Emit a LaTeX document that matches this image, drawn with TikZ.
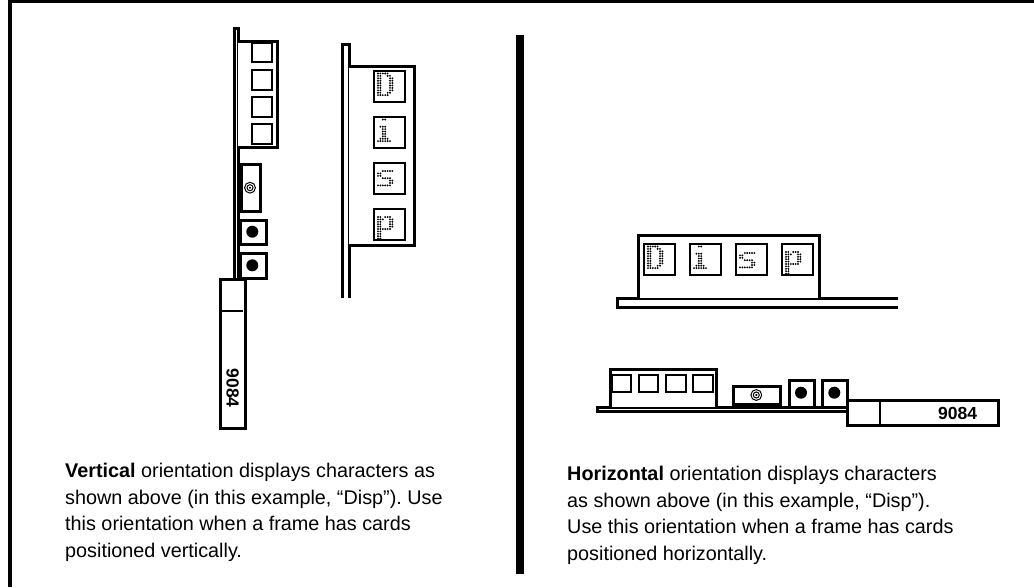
\documentclass[tikz,border=0pt]{standalone}
\usepackage{fontspec}
\setmainfont{Liberation Sans}
\frenchspacing
\newcommand\dotglyph[3]{\foreach \c/\r in #3 {\fill[black] (#1+\c*2.4,#2+\r*2.4) circle (1.05);}}
\def\glyphD{0/0,1/0,2/0,3/0,4/0,0/1,1/1,4/1,5/1,0/2,1/2,5/2,6/2,0/3,1/3,5/3,6/3,0/4,1/4,5/4,6/4,0/5,1/5,5/5,6/5,0/6,1/6,5/6,6/6,0/7,1/7,5/7,6/7,0/8,1/8,4/8,5/8,0/9,1/9,2/9,3/9,4/9}
\def\glyphi{3/0,2/0,1/3,2/3,3/3,2/4,3/4,2/5,3/5,2/6,3/6,2/7,3/7,1/8,2/8,3/8,4/8,0/9,1/9,2/9,3/9,4/9,5/9}
\def\glyphs{2/0,3/0,4/0,5/0,6/0,0/1,1/1,0/2,1/2,2/3,3/3,4/3,5/3,5/4,6/4,5/5,6/5,0/6,1/6,2/6,3/6,4/6,5/6}
\def\glyphp{0/0,1/0,3/0,4/0,5/0,0/1,1/1,2/1,5/1,6/1,0/2,1/2,5/2,6/2,0/3,1/3,5/3,6/3,0/4,1/4,5/4,6/4,0/5,1/5,2/5,3/5,4/5,5/5,0/6,1/6,0/7,1/7,0/8,1/8,0/9,1/9}
\tikzset{
  part/.style={draw=black,line width=3pt,fill=white},
  cell/.style={draw=black,line width=2.2pt,fill=white},
  edge/.style={draw=black,line width=3pt},
  para/.style={anchor=north west,align=left,inner sep=0pt,font=\fontsize{19.8}{26.7}\selectfont},
  serial/.style={inner sep=0pt,font=\bfseries\fontsize{17.5}{20}\selectfont},
}
\newcommand\bullring[2]{\draw[line width=1pt] (#1,#2) circle (5.4); \draw[line width=1pt] (#1,#2) circle (3); \fill (#1,#2) circle (1.2);}
\begin{document}
\begin{tikzpicture}[x=1pt,y=-1pt]
\useasboundingbox (0,0) rectangle (1034,587);
\fill[white] (0,0) rectangle (1034,587);
% frame
\fill[black] (8,0) rectangle (1034,3);
\fill[black] (8,0) rectangle (12,587);
\fill[black] (516,35) rectangle (524,574);
% vertical card, side view
\draw[edge] (234,279) -- (234,28) -- (238,28) -- (238,279);
\draw[part] (238,41) -- (277,41) -- (277,147) -- (238,147);
\draw[cell] (252,43) rectangle (272,62);
\draw[cell] (252,70) rectangle (272,90);
\draw[cell] (252,97) rectangle (272,117);
\draw[cell] (252,124) rectangle (272,144);
\draw[part] (241,164) -- (260,164) -- (260,211) -- (241,211) -- cycle;
\bullring{250}{187.7}
\draw[part] (240,220) rectangle (266,244);
\fill (252.3,231.7) circle (6);
\draw[part] (240,253) rectangle (266,278);
\fill (252.3,265.3) circle (6);
\draw[part] (220,279) rectangle (245,428);
\draw[line width=2.4pt] (220,311) -- (243,311);
\node[serial,rotate=-90] (vserial) at (232.7,388) {9084};
% vertical card, display
\draw[edge] (342,298) -- (342,44) -- (349,44) -- (349,298);
\draw[part] (349,66) -- (414,66) -- (414,245) -- (349,245);
\draw[cell] (374,71) rectangle (405,102);
\draw[cell] (374,117) rectangle (405,148);
\draw[cell] (374,163) rectangle (405,194);
\draw[cell] (374,209) rectangle (405,240);
\dotglyph{378}{73.5}{\glyphD}
\dotglyph{378}{119.5}{\glyphi}
\dotglyph{378}{171}{\glyphs}
\dotglyph{378}{217}{\glyphp}
% horizontal card, display
\draw[edge] (898,298.5) -- (617,298.5) -- (617,307) -- (898,307);
\draw[part] (638,298) -- (638,235) -- (819,235) -- (819,298);
\draw[cell] (644,244) rectangle (675,275);
\draw[cell] (690,244) rectangle (721,275);
\draw[cell] (736,244) rectangle (767,275);
\draw[cell] (782,244) rectangle (813,275);
\dotglyph{648}{246.5}{\glyphD}
\dotglyph{694}{246.5}{\glyphi}
\dotglyph{740}{253}{\glyphs}
\dotglyph{786}{252}{\glyphp}
% horizontal card, side view
\draw[edge] (846,407) -- (597,407) -- (597,411) -- (846,411);
\draw[part] (610,407) -- (610,369) -- (716,369) -- (716,407);
\draw[cell] (612,375) rectangle (631,392);
\draw[cell] (639,375) rectangle (658,392);
\draw[cell] (666,375) rectangle (686,392);
\draw[cell] (693,375) rectangle (713,392);
\draw[part] (733,386) rectangle (780,404);
\bullring{756.3}{395}
\draw[part] (789,380) rectangle (814,407);
\fill (801,392.7) circle (6);
\draw[part] (822,380) rectangle (847,407);
\fill (834.3,392.7) circle (6);
\draw[part] (847,400) rectangle (998,425);
\draw[line width=2.4pt] (880,400) -- (880,425);
\node[serial] (hserial) at (957.7,413) {9084};
% captions
\node[para] (vtext) at (65,463) {\textbf{Vertical} orientation displays characters as\\shown above (in this example, “Disp”). Use\\this orientation when a frame has cards\\positioned vertically.};
\node[para] (htext) at (567,466) {\textbf{Horizontal} orientation displays characters\\as shown above (in this example, “Disp”).\\Use this orientation when a frame has cards\\positioned horizontally.};
\end{tikzpicture}
\end{document}
